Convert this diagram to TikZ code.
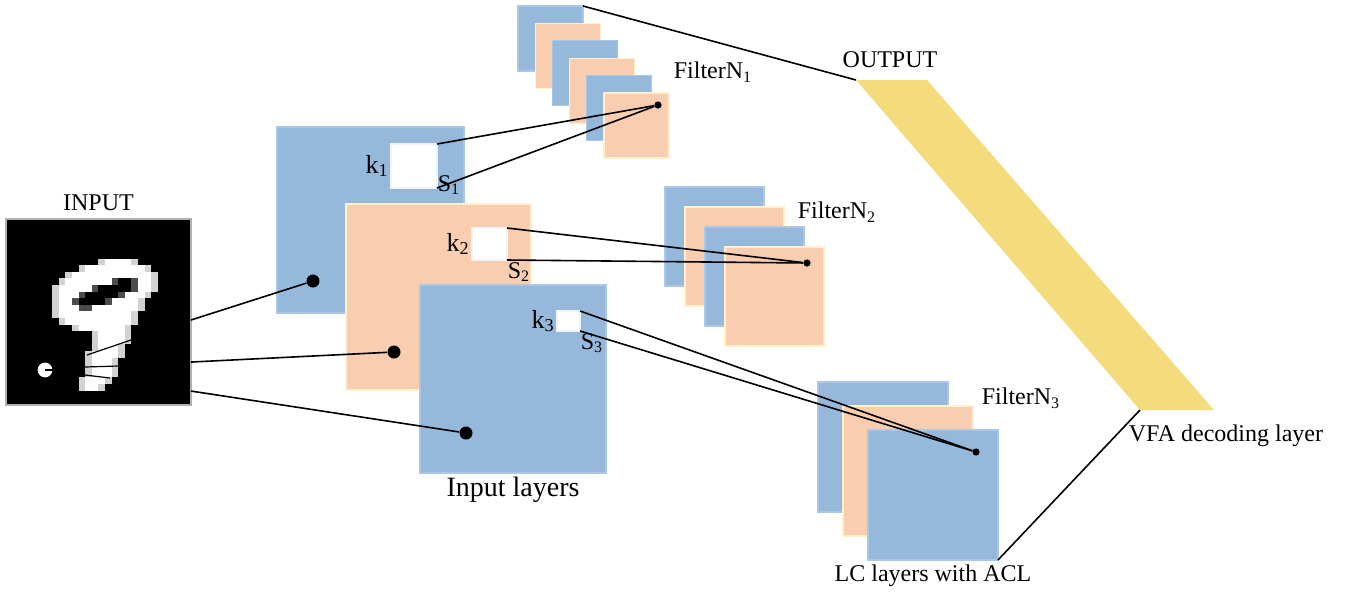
\documentclass[tikz,border=0pt]{standalone}
\usepackage{fontspec}
\setmainfont{Liberation Serif}
\usetikzlibrary{positioning,calc}
\definecolor{layerblue}{RGB}{149,184,219}
\definecolor{layerpeach}{RGB}{248,205,176}
\definecolor{bluerim}{RGB}{170,199,230}
\definecolor{peachrim}{RGB}{255,240,200}
\definecolor{decgold}{RGB}{244,220,124}

\begin{document}
\begin{tikzpicture}[x=0.5pt, y=-0.5pt,
every node/.style={font=\fontsize{12}{14}\selectfont},
sq/.style={anchor=north west, inner sep=0, outer sep=0, line width=0.6pt},
bluesq/.style={sq, fill=layerblue, draw=bluerim},
peachsq/.style={sq, fill=layerpeach, draw=peachrim},
win/.style={sq, fill=white, draw=white!85!layerblue},
dot/.style={circle, fill=black, inner sep=0, minimum size=#1},
dot/.default=3.6pt,
link/.style={black, line width=0.8pt},
lbl/.style={inner sep=1pt}]
\useasboundingbox (0,0) rectangle (1357,591);

% input image
\node[sq, fill=black, draw=gray!60, minimum width=92.5pt, minimum height=93pt] (img) at (6,219) {};
\begin{scope}[shift={(6,219)}, x=3.3pt, y=-3.3pt]
\foreach \r/\a/\b in {6/14/19, 7/11/21, 8/9/22, 9/8/22, 10/7/22, 11/7/21, 12/7/20, 13/7/20,
  14/7/19, 15/8/19, 16/10/18, 17/13/18, 18/13/18, 19/13/17, 20/12/17, 21/12/16,
  22/12/16, 23/12/16, 24/11/15, 25/11/14} {
  \fill[gray!35] (\a,\r) rectangle (\b+1,\r+1);
  \fill[white] (\a+1,\r) rectangle (\b,\r+1);
}
\foreach \r/\c/\d in {9/16/19, 10/13/19, 11/11/17, 12/10/15, 13/11/12} {
  \fill[gray!60!black] (\c,\r) rectangle (\d+1,\r+1);
  \fill[black] (\c+1,\r) rectangle (\d,\r+1);
}
\end{scope}
\fill[white] (45,370) circle (3.7pt);
\draw[black, line width=0.9pt] (45,370) -- (53,370);
\draw[black, line width=0.6pt] (87,355) -- (131,340);
\draw[black, line width=0.6pt] (85,367) -- (118,366);
\draw[black, line width=0.6pt] (85,375) -- (110,378);
\node[lbl, above=3pt of img] {INPUT};

% input layers
\node[bluesq, minimum width=93.5pt, minimum height=93pt] (in1) at (277,127) {};
\node[win, minimum width=23pt, minimum height=22pt] (w1) at (391,144) {};
\node[peachsq, minimum width=92.5pt, minimum height=93pt] (in2) at (346,204) {};
\node[win, minimum width=17.5pt, minimum height=16pt] (w2) at (472,228) {};
\node[bluesq, minimum width=93pt, minimum height=94pt] (in3) at (420,285) {};
\node[win, minimum width=11.5pt, minimum height=10pt] (w3) at (557,311) {};
\node[lbl, font=\fontsize{13}{15}\selectfont, left=0pt of w1] {k\textsubscript{1}};
\node[lbl, font=\fontsize{13}{15}\selectfont, left=0pt of w2] {k\textsubscript{2}};
\node[lbl, font=\fontsize{13}{15}\selectfont, left=0pt of w3] {k\textsubscript{3}};
\node[lbl] at ($(w1.south east)+(12,-3)$) {S\textsubscript{1}};
\node[lbl] at ($(w2.south east)+(12,12)$) {S\textsubscript{2}};
\node[lbl] at ($(w3.south east)+(12,12)$) {S\textsubscript{3}};
\node[dot=6.5pt] (d1) at (313,281) {};
\node[dot=6.5pt] (d2) at (394,352) {};
\node[dot=6.5pt] (d3) at (466,433) {};
\node[lbl, font=\fontsize{14}{16}\selectfont, below=1pt of in3] {Input layers};

% filter stacks
\foreach \i/\s in {0/bluesq,1/peachsq,2/bluesq,3/peachsq,4/bluesq,5/peachsq}
  \node[\s, minimum size=32.5pt] (f1-\i) at ({518+17.2*\i},{6+17.4*\i}) {};
\foreach \i/\s in {0/bluesq,1/peachsq,2/bluesq,3/peachsq}
  \node[\s, minimum size=49.5pt] (f2-\i) at ({665+20*\i},{187+20*\i}) {};
\foreach \i/\s in {0/bluesq,1/peachsq,2/bluesq}
  \node[\s, minimum size=65pt] (f3-\i) at ({818+25*\i},{382+24*\i}) {};
\node[dot] (e1) at (658,105) {};
\node[dot] (e2) at (807,263) {};
\node[dot] (e3) at (976,452) {};
\node[lbl] at (713,72) {FilterN\textsubscript{1}};
\node[lbl] at (837,212) {FilterN\textsubscript{2}};
\node[lbl] at (1021,398) {FilterN\textsubscript{3}};
\node[lbl, below=1pt of f3-2] {LC layers with ACL};

% output layer
\coordinate (o1) at (856,80);
\coordinate (o2) at (927,80);
\coordinate (o3) at (1214,410);
\coordinate (o4) at (1140,410);
\fill[decgold] (o1) -- (o2) -- (o3) -- (o4) -- cycle;
\node[lbl] at (890,60) {OUTPUT};
\node[lbl] at (1226,436) {VFA decoding layer};

% connectors
\draw[link] ($(img.north east)!0.543!(img.south east)$) -- (d1);
\draw[link] ($(img.north east)!0.769!(img.south east)$) -- (d2);
\draw[link] ($(img.north east)!0.925!(img.south east)$) -- (d3);
\draw[link] (w1.north east) -- (e1);
\draw[link] (w1.south east) -- (e1);
\draw[link] (w2.north east) -- (e2);
\draw[link] (w2.south east) -- (e2);
\draw[link] (w3.north east) -- (e3);
\draw[link] (w3.south east) -- (e3);
\draw[link] (f1-0.north east) -- (o1);
\draw[link] (f3-2.south east) -- (o4);
\end{tikzpicture}
\end{document}
